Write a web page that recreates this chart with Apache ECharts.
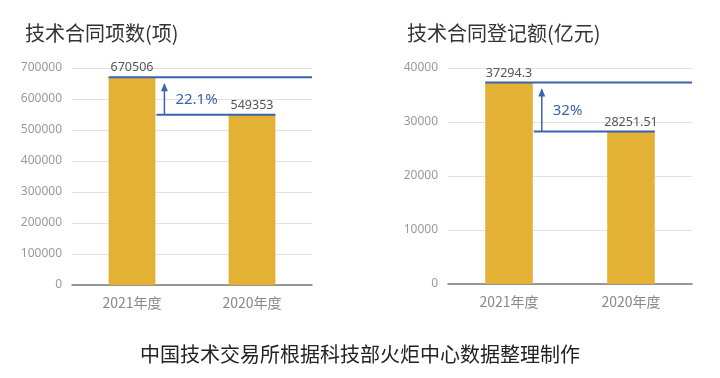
<!DOCTYPE html>
<html>
<head>
<meta charset="utf-8">
<script src="https://cdn.jsdelivr.net/npm/echarts@6/dist/echarts.min.js"></script>
<style>
    html, body {margin: 0; padding: 0; background: #fff;}
    #main {width: 720px; height: 378px;}
</style>
</head>
<body>
<div id="main"></div>
<script>
let years = ['2021年度', '2020年度']
let contractCount = [670506, 549353]
let contractAmount = [37294.3, 28251.51]
let growthLabels = ['22.1%', '32%']
let chartTitles = ['技术合同项数(项)', '技术合同登记额(亿元)']
let sourceNote = '中国技术交易所根据科技部火炬中心数据整理制作'

const BAR = '#e3b235'
const BLUE = '#3b62ae'
const BAR_RATIO = 0.39
const cjk = '"Noto Sans CJK SC", "Noto Sans", sans-serif'
const num = '"Noto Sans", "Noto Sans CJK SC", sans-serif'

// draws the two reference lines, the arrow and the growth text between the bars
function gapRenderer(label) {
    return function (params, api) {
        let cs = params.coordSys
        let hi = api.coord([0, api.value(1)])
        let lo = api.coord([1, api.value(2)])
        let half = api.size([1, 0])[0] * BAR_RATIO / 2
        let leftEdge = hi[0] - half
        let rightEdge = hi[0] + half
        let xr = cs.x + cs.width
        let ax = rightEdge + 9
        let top = hi[1] + 6
        let st = {stroke: BLUE, lineWidth: 2, fill: null}
        return {
            type: 'group',
            children: [
                {type: 'line', shape: {x1: leftEdge, y1: hi[1], x2: xr, y2: hi[1]}, style: st},
                {type: 'line', shape: {x1: rightEdge + 1, y1: lo[1], x2: lo[0] + half, y2: lo[1]}, style: st},
                {type: 'line', shape: {x1: ax, y1: lo[1], x2: ax, y2: top + 1}, style: {stroke: BLUE, lineWidth: 1.5}},
                {type: 'polygon', shape: {points: [[ax - 3.5, top + 8], [ax, top], [ax + 3.5, top + 8]]}, style: {fill: BLUE}},
                {
                    type: 'text',
                    x: ax + 11,
                    y: (lo[1] + top) / 2 + 1,
                    style: {text: label, fill: BLUE, font: '15px ' + num, verticalAlign: 'middle'}
                }
            ]
        }
    }
}

function makeY(idx, max, interval) {
    return {
        type: 'value', gridIndex: idx, min: 0, max: max, interval: interval,
        axisLine: {show: false}, axisTick: {show: false},
        axisLabel: {color: '#999', fontSize: 12, fontFamily: num, margin: 10, formatter: function (v) { return String(v) }},
        splitLine: {lineStyle: {color: '#e2e2e2', width: 1}}
    }
}

function makeX(idx) {
    return {
        type: 'category', gridIndex: idx, data: years,
        axisLine: {lineStyle: {color: '#7a7a7a', width: 1.5}},
        axisTick: {show: false},
        axisLabel: {color: '#888', fontSize: 14, fontFamily: cjk, margin: 11}
    }
}

function makeBars(idx, values) {
    return {
        type: 'bar', xAxisIndex: idx, yAxisIndex: idx, data: values,
        barWidth: (BAR_RATIO * 100) + '%',
        itemStyle: {color: BAR},
        label: {show: true, position: 'top', distance: 3, color: '#555', fontSize: 12.5, fontFamily: num}
    }
}

let myChart = echarts.init(document.getElementById('main'))
let option = {
    animation: false,
    title: [
        {text: chartTitles[0], left: 20, top: 18, textStyle: {fontSize: 20, fontWeight: 'normal', color: '#333', fontFamily: cjk}},
        {text: chartTitles[1], left: 402, top: 18, textStyle: {fontSize: 20, fontWeight: 'normal', color: '#333', fontFamily: cjk}},
        {text: sourceNote, left: 'center', top: 339, textStyle: {fontSize: 20, fontWeight: 'normal', color: '#222', fontFamily: cjk}}
    ],
    grid: [
        {left: 72, right: 408, top: 68, bottom: 93},
        {left: 448, right: 28, top: 68, bottom: 94}
    ],
    xAxis: [makeX(0), makeX(1)],
    yAxis: [makeY(0, 700000, 100000), makeY(1, 40000, 10000)],
    series: [
        makeBars(0, contractCount),
        makeBars(1, contractAmount),
        {
            type: 'custom', xAxisIndex: 0, yAxisIndex: 0, silent: true, z: 5,
            renderItem: gapRenderer(growthLabels[0]),
            data: [[0, contractCount[0], contractCount[1]]]
        },
        {
            type: 'custom', xAxisIndex: 1, yAxisIndex: 1, silent: true, z: 5,
            renderItem: gapRenderer(growthLabels[1]),
            data: [[0, contractAmount[0], contractAmount[1]]]
        }
    ]
}
myChart.setOption(option)
</script>
</body>
</html>
